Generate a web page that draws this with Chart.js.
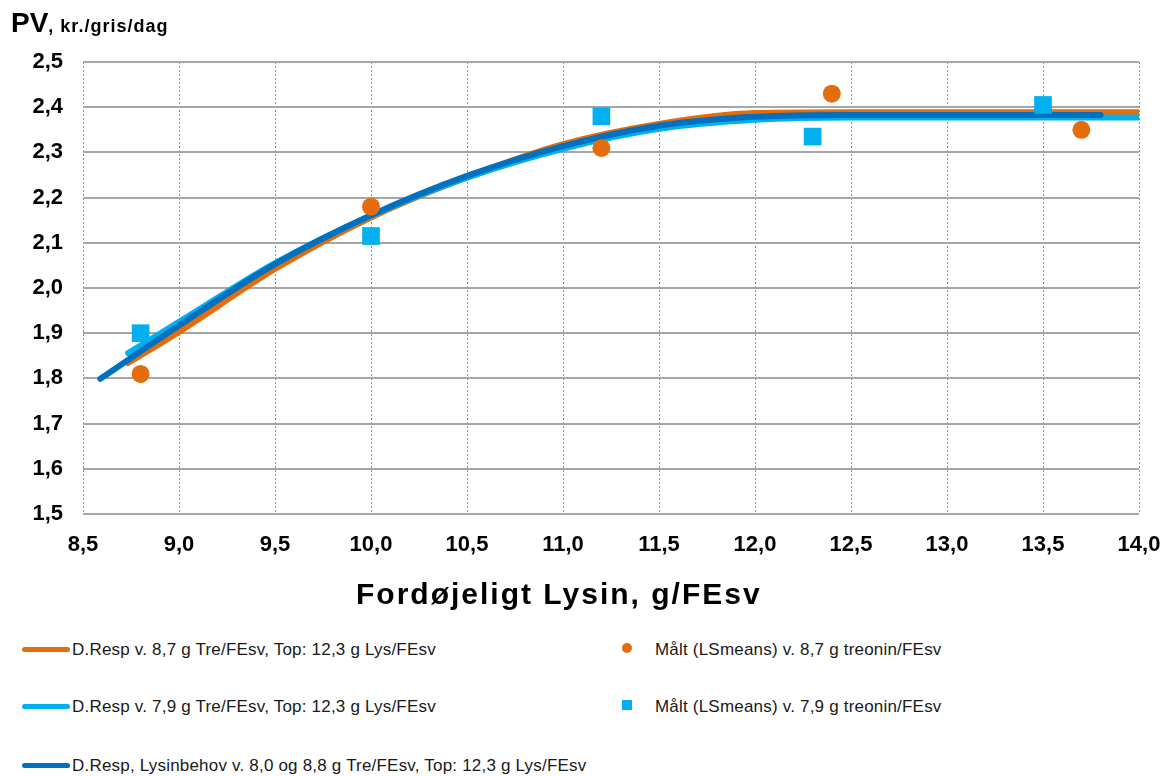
<!DOCTYPE html>
<html>
<head>
<meta charset="utf-8">
<script src="https://cdn.jsdelivr.net/npm/chart.js@4"></script>
<style>
  body { margin: 0; background: #fff; font-family: 'Liberation Sans', Arial, sans-serif; }
  #wrap { position: relative; width: 1163px; height: 776px; }
  #chartBox { position: absolute; left: 0; top: 0; width: 1163px; height: 630px; }
  .ytitle { position: absolute; left: 11px; top: 7px; font-weight: bold; color: #000; white-space: nowrap; }
  .ytitle .big { font-size: 28px; }
  .ytitle .small { font-size: 18px; letter-spacing: 1px; }
  .xtitle { position: absolute; left: 356px; top: 577px; font-size: 30px; line-height: 34px; font-weight: bold; letter-spacing: 2px; color: #000; white-space: nowrap; }
  .leg { position: absolute; font-size: 17px; letter-spacing: 0.2px; color: #1a1a1a; white-space: nowrap; line-height: 20px; }
  .leg .ln { display: inline-block; width: 48px; height: 5px; border-radius: 3px; vertical-align: middle; margin-right: 2px; position: relative; top: -1px; }
</style>
</head>
<body>
<div id="wrap">
  <div id="chartBox"><canvas id="pvChart"></canvas></div>
  <div class="ytitle"><span class="big">PV</span><span class="small">, kr./gris/dag</span></div>
  <div class="xtitle">Fordøjeligt Lysin, g/FEsv</div>
  <div id="legend"></div>
</div>
<script>
// measured points (LSmeans)
const measX87 = [8.8, 10.0, 11.2, 12.4, 13.7];
const measY87 = [1.81, 2.18, 2.31, 2.43, 2.35];
const measX79 = [8.8, 10.0, 11.2, 12.3, 13.5];
const measY79 = [1.90, 2.115, 2.38, 2.335, 2.405];

// dose-response curves
const curveX87 = [8.735, 9.0, 9.5, 10.0, 10.5, 11.0, 11.5, 12.0, 12.5, 13.0, 14.0];
const curveY87 = [1.834, 1.903, 2.042, 2.156, 2.245, 2.318, 2.363, 2.387, 2.389, 2.389, 2.389];
const curveX79 = [8.735, 9.0, 9.5, 10.0, 10.5, 11.0, 11.5, 12.0, 12.5, 13.0, 14.0];
const curveY79 = [1.856, 1.925, 2.055, 2.16, 2.244, 2.308, 2.352, 2.372, 2.377, 2.377, 2.377];
const curveXAll = [8.59, 9.0, 9.5, 10.0, 10.5, 11.0, 11.5, 12.0, 12.5, 13.0, 13.8];
const curveYAll = [1.799, 1.917, 2.053, 2.161, 2.248, 2.314, 2.359, 2.379, 2.383, 2.383, 2.383];

const xMin = 8.5, xMax = 14.0, xStep = 0.5;
const yMin = 1.5, yMax = 2.5, yStep = 0.1;

const labels = [
  'D.Resp v. 8,7 g Tre/FEsv, Top: 12,3 g Lys/FEsv',
  'D.Resp v. 7,9 g Tre/FEsv, Top: 12,3 g Lys/FEsv',
  'D.Resp, Lysinbehov v. 8,0 og 8,8 g Tre/FEsv, Top: 12,3 g Lys/FEsv',
  'Målt (LSmeans) v. 8,7 g treonin/FEsv',
  'Målt (LSmeans) v. 7,9 g treonin/FEsv'
];

const ORANGE = '#E46C0A';
const LIGHT = '#00B0F0';
const DARK = '#0070C0';

const toXY = (xs, ys) => xs.map((x, i) => ({ x: x, y: ys[i] }));
const comma = v => Number(v).toFixed(1).replace('.', ',');

const lineDs = (label, xs, ys, color) => ({
  label: label,
  data: toXY(xs, ys),
  showLine: true,
  borderColor: color,
  backgroundColor: color,
  borderWidth: 6,
  borderCapStyle: 'round',
  pointRadius: 0,
  cubicInterpolationMode: 'monotone'
});

const tickFont = { family: "'Liberation Sans', Arial, sans-serif", size: 22, weight: 'bold' };

new Chart(document.getElementById('pvChart'), {
  type: 'scatter',
  data: {
    datasets: [
      { label: labels[4], data: toXY(measX79, measY79), pointStyle: 'rect', pointRadius: 12.5, pointHoverRadius: 12.5, backgroundColor: LIGHT, borderWidth: 0 },
      { label: labels[3], data: toXY(measX87, measY87), pointStyle: 'circle', pointRadius: 9, pointHoverRadius: 9, backgroundColor: ORANGE, borderWidth: 0 },
      lineDs(labels[2], curveXAll, curveYAll, DARK),
      lineDs(labels[1], curveX79, curveY79, LIGHT),
      lineDs(labels[0], curveX87, curveY87, ORANGE)
    ]
  },
  options: {
    responsive: true,
    maintainAspectRatio: false,
    animation: false,
    layout: { padding: { top: 62, right: 24, left: 0, bottom: 0 } },
    plugins: { legend: { display: false }, tooltip: { enabled: false } },
    scales: {
      x: {
        type: 'linear', min: xMin, max: xMax,
        ticks: { stepSize: xStep, color: '#000', font: tickFont, padding: 18, callback: v => comma(v) },
        grid: { color: '#8c8c8c', lineWidth: 1, drawTicks: false, borderDash: [2, 2] },
        border: { display: false, dash: [2, 2] },
        afterFit: s => { s.height = 116; s.paddingLeft = 0; s.paddingRight = 0; }
      },
      y: {
        min: yMin, max: yMax,
        ticks: { stepSize: yStep, color: '#000', font: tickFont, padding: 20, callback: v => comma(v) },
        grid: { color: '#a6a6a6', lineWidth: 2, drawTicks: false },
        border: { display: false },
        afterFit: s => { s.width = 83; s.paddingTop = 0; s.paddingBottom = 0; }
      }
    }
  }
});

// legend, laid out in two columns like the original
const legendItems = [
  { left: 22, top: 640, type: 'line', color: ORANGE, text: labels[0] },
  { left: 22, top: 697, type: 'line', color: LIGHT, text: labels[1] },
  { left: 22, top: 756, type: 'line', color: DARK, text: labels[2] },
  { left: 622, top: 640, type: 'dot', color: ORANGE, text: labels[3] },
  { left: 622, top: 697, type: 'sq', color: LIGHT, text: labels[4] }
];
const legend = document.getElementById('legend');
legendItems.forEach(it => {
  const d = document.createElement('div');
  d.className = 'leg';
  d.style.left = it.left + 'px';
  d.style.top = it.top + 'px';
  if (it.type === 'line') {
    d.innerHTML = '<span class="ln" style="background:' + it.color + '"></span>' + it.text;
  } else {
    const r = it.type === 'dot' ? '50%' : '0';
    d.innerHTML = '<span style="display:inline-block;width:10px;height:10px;background:' + it.color +
      ';border-radius:' + r + ';vertical-align:middle;margin-right:23px;position:relative;top:-3px"></span>' + it.text;
  }
  legend.appendChild(d);
});
</script>
</body>
</html>
